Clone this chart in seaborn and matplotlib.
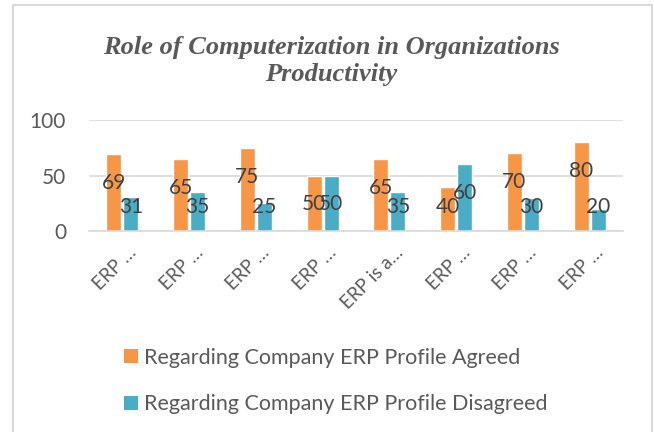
import numpy as np
import pandas as pd
import matplotlib.pyplot as plt
import matplotlib.transforms as mtransforms
from matplotlib.patches import Rectangle, Patch
import seaborn as sns

# dados
items = ["Q1", "Q2", "Q3", "Q4", "Q5", "Q6", "Q7", "Q8"]
tick_labels = ["ERP …", "ERP …", "ERP …", "ERP …", "ERP is a…", "ERP …", "ERP …", "ERP …"]
agreed = [69, 65, 75, 50, 65, 40, 70, 80]
disagreed = [31, 35, 25, 50, 35, 60, 30, 20]
series = ["Regarding Company ERP Profile Agreed", "Regarding Company ERP Profile Disagreed"]

ORANGE = "#F79646"
BLUE = "#4BACC6"
GRAY_TXT = "#595959"
GRID = "#D9D9D9"

df = pd.DataFrame({
    "item": items * 2,
    "value": agreed + disagreed,
    "serie": [series[0]] * len(items) + [series[1]] * len(items),
})

sns.set_style("white")
plt.rcParams["font.family"] = ["Lato", "DejaVu Sans"]

fig = plt.figure(figsize=(6.54, 4.32), dpi=100)
ax = fig.add_axes([89 / 654, 1 - 231 / 432, (623 - 89) / 654, 111 / 432])

sns.barplot(
    data=df, x="item", y="value", hue="serie", order=items, hue_order=series,
    palette=[ORANGE, BLUE], width=0.51, gap=0.12, saturation=1, ax=ax,
)
ax.get_legend().remove()

# rótulos de dados (posição semelhante ao Excel)
for cont in ax.containers:
    for bar in cont:
        v = bar.get_height()
        ax.text(bar.get_x() + bar.get_width() / 2, max(v - 26, 21.5), f"{v:.0f}",
                ha="center", va="center", fontsize=15, color="#404040")

ax.set_ylim(0, 100)
ax.set_xlim(-0.5, len(items) - 0.5)
ax.set_yticks([0, 50, 100])
ax.set_yticklabels(["0", "50", "100"], fontsize=15, color=GRAY_TXT)
ax.tick_params(axis="y", length=0, pad=16.5)
ax.yaxis.grid(True, color=GRID, lw=1.2)
ax.set_axisbelow(True)
ax.set_xlabel("")
ax.set_ylabel("")

ax.set_xticks(range(len(items)))
ax.set_xticklabels(tick_labels, rotation=45, ha="right", rotation_mode="anchor",
                   fontsize=13.5, color=GRAY_TXT)
ax.tick_params(axis="x", length=0, pad=0)
offset = mtransforms.ScaledTranslation(5 / 100, -13 / 100, fig.dpi_scale_trans)
for lbl in ax.get_xticklabels():
    lbl.set_transform(lbl.get_transform() + offset)
ax.set_xticks(np.arange(-0.5, len(items), 1), minor=True)
ax.tick_params(axis="x", which="minor", length=5, width=1.2, color=GRID, direction="out")

for s in ["left", "right", "top"]:
    ax.spines[s].set_visible(False)
ax.spines["bottom"].set_color(GRID)
ax.spines["bottom"].set_linewidth(1.2)

fig.text(331 / 654, 1 - 61 / 432,
         "Role of Computerization in Organizations\nProductivity",
         ha="center", va="center", fontsize=19, fontweight="bold", fontstyle="italic",
         family="Liberation Serif", color=GRAY_TXT, linespacing=1.2)

handles = [Patch(facecolor=ORANGE, edgecolor="none"), Patch(facecolor=BLUE, edgecolor="none")]
fig.legend(handles, series, loc="center left", bbox_to_anchor=(113 / 654, 1 - 381 / 432),
           frameon=False, fontsize=15.5, labelcolor=GRAY_TXT, handlelength=0.65,
           handleheight=0.6, handletextpad=0.3, labelspacing=1.25, borderpad=0)

fig.patches.append(Rectangle((13 / 654, -0.05), (652 - 13) / 654, 1 - 5 / 432 + 0.05,
                             transform=fig.transFigure, fill=False, edgecolor=GRID, lw=1.5))

fig.savefig("out.png", dpi=100)
